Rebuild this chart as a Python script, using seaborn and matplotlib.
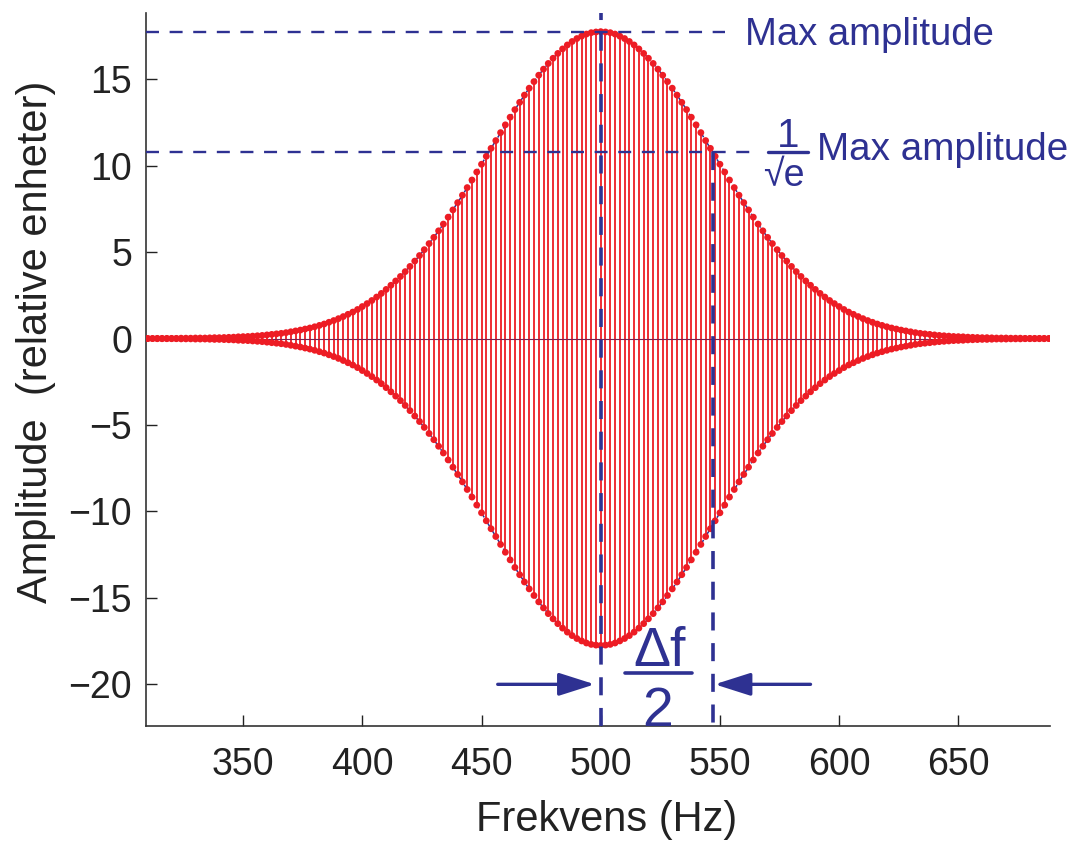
import numpy as np
import pandas as pd
import matplotlib
matplotlib.use("Agg")
import matplotlib.pyplot as plt
import seaborn as sns

# Stem frequencies (Hz), one stem every 2 Hz
freqs = [
    310, 312, 314, 316, 318, 320, 322, 324, 326, 328, 330, 332, 334, 336, 338, 340, 342, 344, 346, 348,
    350, 352, 354, 356, 358, 360, 362, 364, 366, 368, 370, 372, 374, 376, 378, 380, 382, 384, 386, 388,
    390, 392, 394, 396, 398, 400, 402, 404, 406, 408, 410, 412, 414, 416, 418, 420, 422, 424, 426, 428,
    430, 432, 434, 436, 438, 440, 442, 444, 446, 448, 450, 452, 454, 456, 458, 460, 462, 464, 466, 468,
    470, 472, 474, 476, 478, 480, 482, 484, 486, 488, 490, 492, 494, 496, 498, 500, 502, 504, 506, 508,
    510, 512, 514, 516, 518, 520, 522, 524, 526, 528, 530, 532, 534, 536, 538, 540, 542, 544, 546, 548,
    550, 552, 554, 556, 558, 560, 562, 564, 566, 568, 570, 572, 574, 576, 578, 580, 582, 584, 586, 588,
    590, 592, 594, 596, 598, 600, 602, 604, 606, 608, 610, 612, 614, 616, 618, 620, 622, 624, 626, 628,
    630, 632, 634, 636, 638, 640, 642, 644, 646, 648, 650, 652, 654, 656, 658, 660, 662, 664, 666, 668,
    670, 672, 674, 676, 678, 680, 682, 684, 686, 688, 690,
]

# Stem amplitudes (relative units), estimated from the envelope
amps = [
    0.00, 0.00, 0.01, 0.01, 0.01, 0.01, 0.01, 0.02, 0.02, 0.02,
    0.03, 0.03, 0.03, 0.04, 0.05, 0.05, 0.06, 0.07, 0.08, 0.10,
    0.11, 0.12, 0.14, 0.16, 0.18, 0.21, 0.24, 0.27, 0.30, 0.34,
    0.39, 0.44, 0.49, 0.55, 0.61, 0.68, 0.76, 0.84, 0.94, 1.04,
    1.15, 1.27, 1.40, 1.53, 1.68, 1.85, 2.02, 2.20, 2.40, 2.61,
    2.84, 3.08, 3.33, 3.59, 3.87, 4.17, 4.48, 4.80, 5.14, 5.49,
    5.85, 6.23, 6.62, 7.02, 7.44, 7.86, 8.29, 8.73, 9.17, 9.63,
    10.08, 10.54, 11.00, 11.45, 11.91, 12.36, 12.80, 13.24, 13.66, 14.08,
    14.48, 14.86, 15.23, 15.58, 15.91, 16.21, 16.49, 16.75, 16.98, 17.18,
    17.35, 17.49, 17.61, 17.69, 17.73,
    17.75,
    17.73, 17.69, 17.61, 17.49, 17.35, 17.18, 16.98, 16.75, 16.49, 16.21,
    15.91, 15.58, 15.23, 14.86, 14.48, 14.08, 13.66, 13.24, 12.80, 12.36,
    11.91, 11.45, 11.00, 10.54, 10.08, 9.63, 9.17, 8.73, 8.29, 7.86,
    7.44, 7.02, 6.62, 6.23, 5.85, 5.49, 5.14, 4.80, 4.48, 4.17,
    3.87, 3.59, 3.33, 3.08, 2.84, 2.61, 2.40, 2.20, 2.02, 1.85,
    1.68, 1.53, 1.40, 1.27, 1.15, 1.04, 0.94, 0.84, 0.76, 0.68,
    0.61, 0.55, 0.49, 0.44, 0.39, 0.34, 0.30, 0.27, 0.24, 0.21,
    0.18, 0.16, 0.14, 0.12, 0.11, 0.10, 0.08, 0.07, 0.06, 0.05,
    0.05, 0.04, 0.03, 0.03, 0.03, 0.02, 0.02, 0.02, 0.01, 0.01,
    0.01, 0.01, 0.01, 0.00, 0.00,
]

x_ticks = [350, 400, 450, 500, 550, 600, 650]
y_ticks = [-20, -15, -10, -5, 0, 5, 10, 15]

f_center = 500      # frequency of max amplitude
f_half = 547        # frequency where amplitude is max/sqrt(e)

RED = "#ed1c24"
BLUE = "#2e3192"

sns.set_style("ticks")
plt.rcParams["font.family"] = ["Liberation Sans", "DejaVu Sans"]
plt.rcParams["axes.unicode_minus"] = True

df = pd.DataFrame({"freq": freqs, "amp": amps})
df_neg = pd.DataFrame({"freq": freqs, "amp": [-a for a in amps]})

fig = plt.figure(figsize=(10.74, 8.43), dpi=100)
ax = fig.add_axes([0.136, 0.139, 0.842, 0.845])

# stems from -A to +A
ax.vlines(df["freq"], df_neg["amp"], df["amp"], color=RED, lw=1.3, zorder=2)
ax.axhline(0, color="#7a2050", lw=0.8, zorder=3)

# gaussian envelope (blue dashed)
for d in (df, df_neg):
    sns.lineplot(data=d, x="freq", y="amp", ax=ax, color=BLUE, lw=1.1,
                 linestyle=(0, (4, 3)), zorder=4, legend=False)

# dots at stem ends
for d in (df, df_neg):
    sns.scatterplot(data=d, x="freq", y="amp", ax=ax, color=RED, s=24,
                    edgecolor="none", zorder=5, legend=False)

peak = max(amps)
level = peak / np.sqrt(np.e)

ax.set_xlim(309.3, 688.6)
ax.set_ylim(-22.4, 18.8)

# reference dashed lines
ax.plot([309.3, 552], [peak, peak], color=BLUE, lw=1.7, dashes=(5.5, 4.5),
        zorder=6, clip_on=False)
ax.plot([309.3, 564], [level, level], color=BLUE, lw=1.7, dashes=(5.5, 4.5),
        zorder=6, clip_on=False)
ax.axvline(f_center, color=BLUE, lw=2.6, dashes=(5, 3.5), zorder=6)
ax.plot([f_half, f_half], [level, -22.4], color=BLUE, lw=2.6, dashes=(5, 3.5),
        zorder=6, clip_on=False)

# annotations
ax.text(560.4, 17.0, "Max amplitude", color=BLUE, fontsize=27.5, va="baseline")
ax.text(578.4, 11.1, "1", color=BLUE, fontsize=29, ha="center", va="baseline")
ax.plot([570, 586.8], [level, level], color=BLUE, lw=2.4, clip_on=False, zorder=6)
ax.text(576.8, 8.8, "√e", color=BLUE, fontsize=27, ha="center", va="baseline")
ax.text(590.9, 10.3, "Max amplitude", color=BLUE, fontsize=27.8, va="baseline")

ax.text(524.5, -18.95, "Δf", color=BLUE, fontsize=40, ha="center", va="baseline")
ax.plot([510.1, 538.1], [-19.32, -19.32], color=BLUE, lw=2.6, clip_on=False, zorder=6)
ax.text(524, -22.4, "2", color=BLUE, fontsize=40, ha="center", va="baseline")

arrow = dict(arrowstyle="-|>,head_length=1.1,head_width=0.35", color=BLUE,
             lw=2.4, shrinkA=0, shrinkB=0, mutation_scale=20)
ax.annotate("", xy=(497.5, -20), xytext=(456.8, -20), arrowprops=arrow)
ax.annotate("", xy=(547.8, -20), xytext=(588, -20), arrowprops=arrow)

ax.set_xticks(x_ticks)
ax.set_yticks(y_ticks)
ax.tick_params(axis="both", direction="in", length=8, width=1, labelsize=27,
               colors="#222222")
ax.tick_params(axis="x", pad=15)
ax.tick_params(axis="y", pad=10)
for side in ("top", "right"):
    ax.spines[side].set_visible(False)
for side in ("left", "bottom"):
    ax.spines[side].set_color("#333333")
    ax.spines[side].set_linewidth(1.2)

ax.set_xlabel("Frekvens (Hz)", fontsize=30, color="#222222")
ax.set_ylabel("Amplitude  (relative enheter)", fontsize=30, color="#222222")
ax.xaxis.set_label_coords(0.509, -0.104)
ax.yaxis.set_label_coords(-0.100, 0.539)

fig.savefig("out.png", dpi=100)
